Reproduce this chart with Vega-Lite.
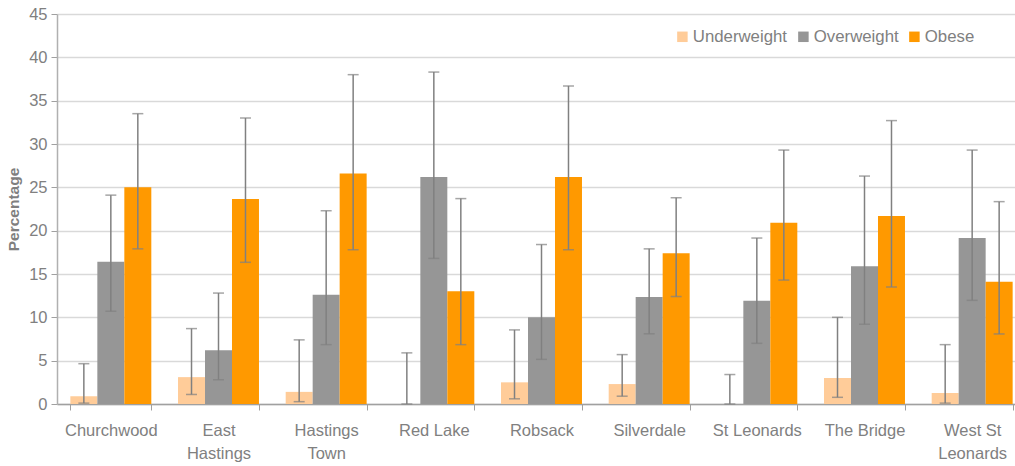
{
  "$schema": "https://vega.github.io/schema/vega-lite/v6.json",
  "width": 969,
  "height": 390,
  "autosize": {"type": "none"},
  "padding": {"left": 57, "top": 14, "right": 0, "bottom": 62},
  "background": "white",
  "config": {
    "view": {"stroke": null},
    "font": "Liberation Sans"
  },
  "data": {
    "values": [
      {"area": "Churchwood", "group": "Underweight", "value": 0.9, "low": 0.1, "high": 4.65},
      {"area": "Churchwood", "group": "Overweight", "value": 16.4, "low": 10.7, "high": 24.1},
      {"area": "Churchwood", "group": "Obese", "value": 25.0, "low": 17.9, "high": 33.5},
      {"area": "East Hastings", "group": "Underweight", "value": 3.1, "low": 1.1, "high": 8.7},
      {"area": "East Hastings", "group": "Overweight", "value": 6.2, "low": 2.8, "high": 12.8},
      {"area": "East Hastings", "group": "Obese", "value": 23.65, "low": 16.35, "high": 33.0},
      {"area": "Hastings Town", "group": "Underweight", "value": 1.4, "low": 0.27, "high": 7.4},
      {"area": "Hastings Town", "group": "Overweight", "value": 12.6, "low": 6.85, "high": 22.3},
      {"area": "Hastings Town", "group": "Obese", "value": 26.6, "low": 17.8, "high": 38.0},
      {"area": "Red Lake", "group": "Underweight", "value": 0, "low": 0, "high": 5.9},
      {"area": "Red Lake", "group": "Overweight", "value": 26.2, "low": 16.8, "high": 38.3},
      {"area": "Red Lake", "group": "Obese", "value": 13.0, "low": 6.85, "high": 23.7},
      {"area": "Robsack", "group": "Underweight", "value": 2.5, "low": 0.6, "high": 8.55},
      {"area": "Robsack", "group": "Overweight", "value": 10.0, "low": 5.15, "high": 18.4},
      {"area": "Robsack", "group": "Obese", "value": 26.2, "low": 17.8, "high": 36.7},
      {"area": "Silverdale", "group": "Underweight", "value": 2.3, "low": 0.9, "high": 5.7},
      {"area": "Silverdale", "group": "Overweight", "value": 12.35, "low": 8.1, "high": 17.9},
      {"area": "Silverdale", "group": "Obese", "value": 17.4, "low": 12.4, "high": 23.8},
      {"area": "St Leonards", "group": "Underweight", "value": 0, "low": 0, "high": 3.4},
      {"area": "St Leonards", "group": "Overweight", "value": 11.9, "low": 7.0, "high": 19.15},
      {"area": "St Leonards", "group": "Obese", "value": 20.9, "low": 14.3, "high": 29.3},
      {"area": "The Bridge", "group": "Underweight", "value": 3.0, "low": 0.77, "high": 10.0},
      {"area": "The Bridge", "group": "Overweight", "value": 15.9, "low": 9.2, "high": 26.3},
      {"area": "The Bridge", "group": "Obese", "value": 21.7, "low": 13.5, "high": 32.7},
      {"area": "West St Leonards", "group": "Underweight", "value": 1.27, "low": 0.1, "high": 6.85},
      {"area": "West St Leonards", "group": "Overweight", "value": 19.15, "low": 11.96, "high": 29.3},
      {"area": "West St Leonards", "group": "Obese", "value": 14.1, "low": 8.08, "high": 23.35}
    ]
  },
  "encoding": {
    "x": {
      "field": "area",
      "type": "nominal",
      "sort": null,
      "scale": {"paddingInner": 0.248, "paddingOuter": 0.124},
      "axis": {
        "title": null,
        "labelAngle": 0,
        "labelFontSize": 16.5,
        "labelColor": "#808080",
        "labelPadding": 12,
        "labelLineHeight": 23,
        "labelExpr": "datum.value == 'East Hastings' ? ['East', 'Hastings'] : datum.value == 'Hastings Town' ? ['Hastings', 'Town'] : datum.value == 'West St Leonards' ? ['West St', 'Leonards'] : datum.value",
        "tickBand": "extent",
        "tickSize": 6,
        "tickColor": "#a0a0a0",
        "domainColor": "#a0a0a0",
        "domainWidth": 1.5,
        "grid": false
      }
    },
    "xOffset": {"field": "group", "type": "nominal", "sort": ["Underweight", "Overweight", "Obese"]}
  },
  "layer": [
    {
      "mark": {"type": "bar"},
      "encoding": {
        "y": {
          "field": "value",
          "type": "quantitative",
          "scale": {"domain": [0, 45], "nice": false},
          "axis": {
            "title": "Percentage",
            "titleFontSize": 15.5,
            "titleFontWeight": "bold",
            "titleColor": "#7f7f7f",
            "titlePadding": 7,
            "values": [0, 5, 10, 15, 20, 25, 30, 35, 40, 45],
            "labelFontSize": 16.5,
            "labelColor": "#808080",
            "labelPadding": 4,
            "tickSize": 6,
            "tickColor": "#a0a0a0",
            "domainColor": "#b0b0b0",
            "domainWidth": 1.5,
            "gridColor": "#d9d9d9",
            "gridWidth": 1.5
          }
        },
        "color": {
          "field": "group",
          "type": "nominal",
          "scale": {"domain": ["Underweight", "Overweight", "Obese"], "range": ["#FFCC99", "#969696", "#FF9900"]},
          "legend": {
            "title": null,
            "orient": "none",
            "legendX": 617,
            "legendY": 14,
            "direction": "horizontal",
            "symbolType": "square",
            "symbolSize": 110,
            "symbolStrokeWidth": 0,
            "labelFontSize": 16.8,
            "labelColor": "#808080",
            "labelOffset": 2,
            "columnPadding": 7,
            "padding": 0
          }
        }
      }
    },
    {
      "mark": {"type": "rule", "color": "#808080", "strokeWidth": 1.5},
      "encoding": {
        "y": {"field": "low", "type": "quantitative"},
        "y2": {"field": "high"}
      }
    },
    {
      "mark": {"type": "tick", "color": "#808080", "thickness": 1.5, "size": 11},
      "encoding": {
        "y": {"field": "low", "type": "quantitative"}
      }
    },
    {
      "mark": {"type": "tick", "color": "#808080", "thickness": 1.5, "size": 11},
      "encoding": {
        "y": {"field": "high", "type": "quantitative"}
      }
    }
  ]
}
